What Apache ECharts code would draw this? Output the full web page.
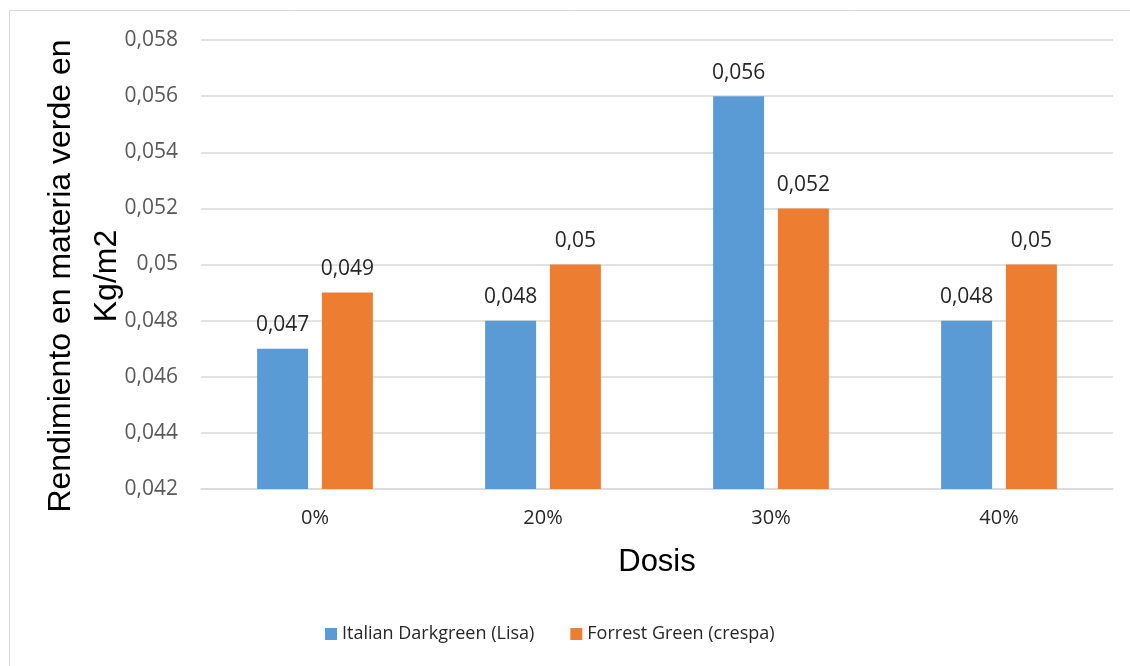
<!DOCTYPE html>
<html>
<head>
<meta charset="utf-8">
<script src="https://cdn.jsdelivr.net/npm/echarts@6/dist/echarts.min.js"></script>
<style>
  html, body { margin: 0; padding: 0; background: #fff; }
  #chart { width: 1130px; height: 666px; }
</style>
</head>
<body>
<div id="chart"></div>
<script>
// Doses and yields (kg/m2) for the two lettuce varieties
const categories = ['0%', '20%', '30%', '40%'];
const seriesNames = ['Italian Darkgreen (Lisa)', 'Forrest Green (crespa)'];
const lisaValues = [0.047, 0.048, 0.056, 0.048];
const crespaValues = [0.049, 0.05, 0.052, 0.05];
const yMin = 0.042, yMax = 0.058, yStep = 0.002;

const FONT = '"Open Sans", "Liberation Sans", sans-serif';
// decimal comma, trailing zeros dropped (0.050 -> "0,05")
const comma = v => String(parseFloat(Number(v).toFixed(3))).replace('.', ',');

const chart = echarts.init(document.getElementById('chart'), null, { renderer: 'canvas' });

const barLabel = {
  show: true,
  position: 'top',
  distance: 13,
  color: '#262626',
  fontFamily: FONT,
  fontSize: 21,
  formatter: p => comma(p.value)
};

chart.setOption({
  backgroundColor: '#ffffff',
  animation: false,
  graphic: [{
    type: 'rect',
    shape: { x: 9.5, y: 10.5, width: 1140, height: 680 },
    style: { fill: 'none', stroke: '#d9d9d9', lineWidth: 1 },
    silent: true
  }, {
    type: 'text',
    x: 84,
    y: 276,
    rotation: Math.PI / 2,
    style: {
      text: 'Rendimiento en materia verde en\nKg/m2',
      font: '32px "Liberation Sans", Arial, sans-serif',
      fill: '#000000',
      align: 'center',
      verticalAlign: 'middle',
      lineHeight: 46
    }
  }],
  grid: { left: 201, right: 17, top: 40, bottom: 177 },
  legend: {
    data: seriesNames,
    bottom: 18,
    left: 320,
    itemWidth: 12,
    itemHeight: 12,
    itemGap: 36,
    icon: 'rect',
    textStyle: { fontFamily: FONT, fontSize: 18, color: '#262626' }
  },
  xAxis: {
    type: 'category',
    data: categories,
    name: 'Dosis',
    nameLocation: 'middle',
    nameGap: 58,
    nameTextStyle: { fontFamily: '"Liberation Sans", Arial, sans-serif', fontSize: 31, color: '#000' },
    axisLine: { lineStyle: { color: '#d9d9d9', width: 1.5 } },
    axisTick: { show: false },
    axisLabel: { fontFamily: FONT, fontSize: 20, color: '#262626', margin: 19 }
  },
  yAxis: {
    type: 'value',
    min: yMin,
    max: yMax,
    interval: yStep,
    axisLine: { show: false },
    axisTick: { show: false },
    splitLine: { lineStyle: { color: '#d9d9d9', width: 1.5 } },
    axisLabel: {
      fontFamily: FONT, fontSize: 21, color: '#595959', margin: 23,
      formatter: v => comma(v)
    }
  },
  series: [{
    name: seriesNames[0],
    type: 'bar',
    data: lisaValues,
    barWidth: 51,
    barGap: '27%',
    itemStyle: { color: '#5b9bd5' },
    label: barLabel
  }, {
    name: seriesNames[1],
    type: 'bar',
    data: crespaValues,
    barWidth: 51,
    barGap: '27%',
    itemStyle: { color: '#ed7d31' },
    label: barLabel
  }]
});
</script>
</body>
</html>
